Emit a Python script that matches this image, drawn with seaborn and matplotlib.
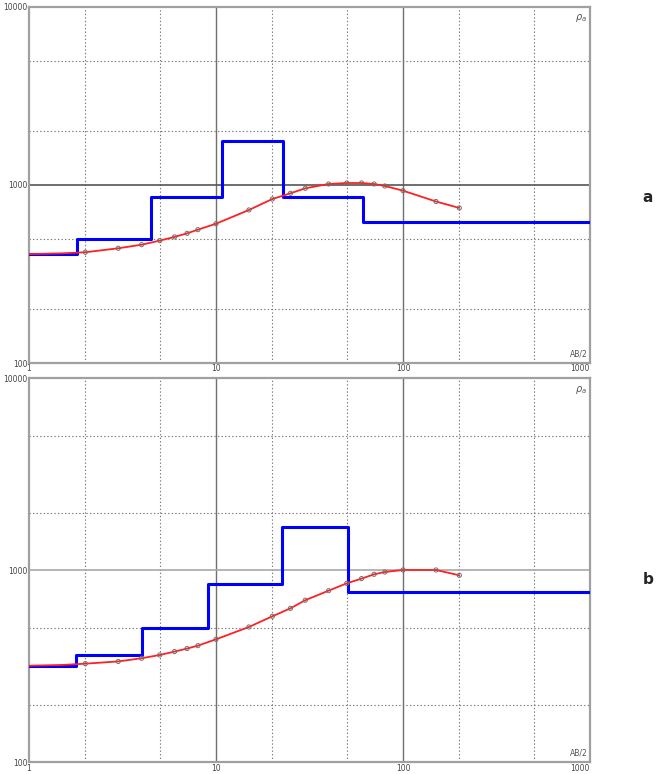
import numpy as np
import pandas as pd
import matplotlib
matplotlib.use("Agg")
import matplotlib.pyplot as plt
import seaborn as sns
from matplotlib.ticker import FixedLocator, LogLocator, NullFormatter

sns.set_style("white")
plt.rcParams['font.family'] = ['DejaVu Sans']

# --- panel a: layered model (blue) and sounding curve (red) ---
depth_a = [1.8, 4.5, 10.8, 22.7, 60.9]
res_a = [409, 498, 860, 1761, 860, 622]

curve_x_a = [1, 1.5, 2, 3, 4, 5, 6, 7, 8, 10, 15, 20, 25, 30, 40, 50, 60, 70, 80, 100, 150, 200]
curve_y_a = [409, 413, 419, 441, 462, 487, 511, 535, 561, 606, 724, 834, 898, 958, 1013, 1026, 1026, 1013, 987, 929, 808, 743]

obs_x_a = [2, 3, 4, 5, 6, 7, 8, 10, 15, 20, 25, 30, 40, 50, 60, 70, 80, 100, 150, 200]
obs_y_a = [419, 441, 462, 487, 511, 535, 561, 606, 724, 834, 898, 958, 1013, 1026, 1026, 1013, 987, 929, 808, 743]

# --- panel b ---
depth_b = [1.78, 4.04, 9.02, 22.6, 51]
res_b = [319, 362, 502, 850, 1679, 776]

curve_x_b = [1, 1.5, 2, 3, 4, 5, 6, 7, 8, 10, 15, 20, 25, 30, 40, 50, 60, 70, 80, 100, 150, 200]
curve_y_b = [319, 322, 327, 336, 349, 363, 378, 392, 406, 438, 508, 577, 635, 700, 785, 857, 907, 955, 982, 1006, 1006, 944]

obs_x_b = [2, 3, 4, 5, 6, 7, 8, 10, 15, 20, 25, 30, 40, 50, 60, 70, 80, 100, 150, 200]
obs_y_b = [327, 336, 349, 363, 378, 392, 406, 438, 508, 577, 635, 700, 785, 857, 907, 955, 982, 1006, 1006, 944]

x_dotted = [2, 5, 20, 50, 200, 500]
x_solid = [10, 100]
y_dotted = [200, 500, 2000, 5000]
y_solid = [1000]


def draw_panel(ax, depth, res, cx, cy, ox, oy, hline_color):
    ax.set_xscale("log")
    ax.set_yscale("log")
    ax.set_xlim(1, 1000)
    ax.set_ylim(100, 10000)

    for v in x_dotted:
        ax.axvline(v, color="#777777", lw=0.8, ls=(0, (1.2, 2)), zorder=1)
    for v in y_dotted:
        ax.axhline(v, color="#777777", lw=0.8, ls=(0, (1.2, 2)), zorder=1)
    for v in x_solid:
        ax.axvline(v, color="#707070", lw=1.0, zorder=1)
    for v in y_solid:
        ax.axhline(v, color=hline_color, lw=1.2, zorder=1)

    model = pd.DataFrame({"x": [1] + depth + [1000], "y": res + [res[-1]]})
    sns.lineplot(data=model, x="x", y="y", ax=ax, color="#0000ff", lw=2.2,
                 drawstyle="steps-post", estimator=None, sort=False, zorder=3)

    curve = pd.DataFrame({"x": cx, "y": cy})
    sns.lineplot(data=curve, x="x", y="y", ax=ax, color="#ff2020", lw=1.3,
                 estimator=None, sort=False, zorder=4)

    obs = pd.DataFrame({"x": ox, "y": oy})
    sns.scatterplot(data=obs, x="x", y="y", ax=ax, s=9, facecolor="none",
                    edgecolor="#707070", linewidth=0.7, zorder=5)

    ax.xaxis.set_major_locator(FixedLocator([1, 10, 100, 1000]))
    ax.xaxis.set_minor_locator(LogLocator(base=10, subs=np.arange(2, 10)))
    ax.yaxis.set_major_locator(FixedLocator([100, 1000, 10000]))
    ax.yaxis.set_minor_locator(LogLocator(base=10, subs=np.arange(2, 10)))
    ax.xaxis.set_minor_formatter(NullFormatter())
    ax.yaxis.set_minor_formatter(NullFormatter())
    ax.set_xticklabels(["1", "10", "100", "1000"])
    ax.set_yticklabels(["100", "1000", "10000"])
    ax.get_xticklabels()[-1].set_ha("right")
    ax.tick_params(which="both", direction="in", length=3, width=0.7,
                   color="#777777", labelsize=5.5, labelcolor="#444444", pad=1)
    ax.set_xlabel("")
    ax.set_ylabel("")

    for s in ax.spines.values():
        s.set_color("#a0a0a0")
        s.set_linewidth(1.6)

    ax.text(0.995, 0.985, r"$\rho_a$", transform=ax.transAxes, ha="right",
            va="top", fontsize=7, color="#555555")
    ax.text(0.995, 0.012, "AB/2", transform=ax.transAxes, ha="right",
            va="bottom", fontsize=5.5, color="#555555")


fig = plt.figure(figsize=(6.72, 7.74), dpi=100)
ax1 = fig.add_axes([0.0432, 0.531, 0.8348, 0.460])
ax2 = fig.add_axes([0.0432, 0.0149, 0.8348, 0.4961])

draw_panel(ax1, depth_a, res_a, curve_x_a, curve_y_a, obs_x_a, obs_y_a, "#555555")
draw_panel(ax2, depth_b, res_b, curve_x_b, curve_y_b, obs_x_b, obs_y_b, "#a8a8a8")

fig.text(648 / 672, 1 - 198 / 774, "a", fontsize=11, fontweight="bold",
         ha="center", va="center")
fig.text(648 / 672, 1 - 579 / 774, "b", fontsize=11, fontweight="bold",
         ha="center", va="center")

fig.savefig("out.png", dpi=100)
